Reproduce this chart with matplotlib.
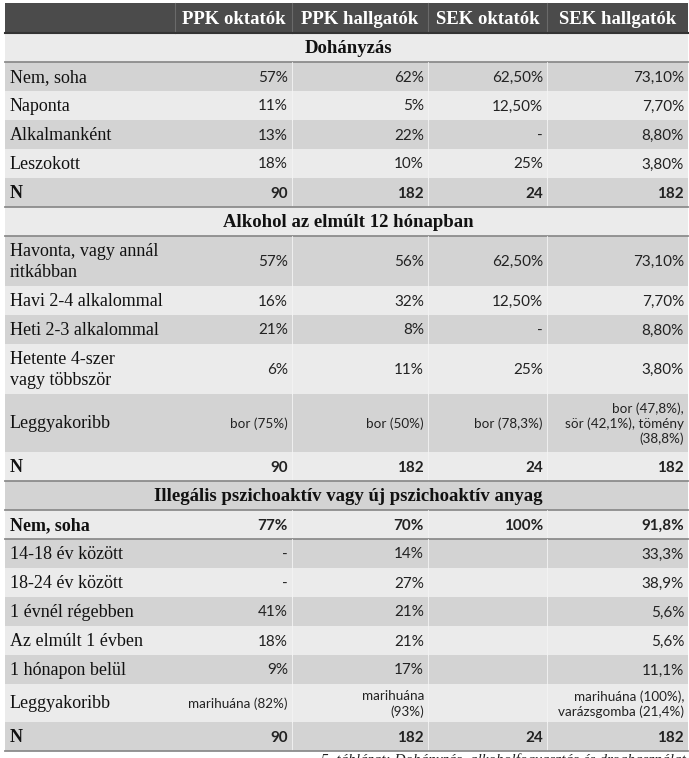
import matplotlib.pyplot as plt
from matplotlib.patches import Rectangle

# column headers
headers = ["PPK oktatók", "PPK hallgatók", "SEK oktatók", "SEK hallgatók"]

# section 1: smoking
smoke_title = "Dohányzás"
smoke_labels = ["Nem, soha", "Naponta", "Alkalmanként", "Leszokott", "N"]
smoke_vals = [
    ["57%", "62%", "62,50%", "73,10%"],
    ["11%", "5%", "12,50%", "7,70%"],
    ["13%", "22%", "-", "8,80%"],
    ["18%", "10%", "25%", "3,80%"],
    ["90", "182", "24", "182"],
]

# section 2: alcohol
alc_title = "Alkohol az elmúlt 12 hónapban"
alc_labels = ["Havonta, vagy annál\nritkábban", "Havi 2-4 alkalommal", "Heti 2-3 alkalommal",
              "Hetente 4-szer\nvagy többször", "Leggyakoribb", "N"]
alc_vals = [
    ["57%", "56%", "62,50%", "73,10%"],
    ["16%", "32%", "12,50%", "7,70%"],
    ["21%", "8%", "-", "8,80%"],
    ["6%", "11%", "25%", "3,80%"],
    ["bor (75%)", "bor (50%)", "bor (78,3%)", "bor (47,8%),\nsör (42,1%), tömény\n(38,8%)"],
    ["90", "182", "24", "182"],
]

# section 3: drugs
drug_title = "Illegális pszichoaktív vagy új pszichoaktív anyag"
drug_labels = ["Nem, soha", "14-18 év között", "18-24 év között", "1 évnél régebben",
               "Az elmúlt 1 évben", "1 hónapon belül", "Leggyakoribb", "N"]
drug_vals = [
    ["77%", "70%", "100%", "91,8%"],
    ["-", "14%", "", "33,3%"],
    ["-", "27%", "", "38,9%"],
    ["41%", "21%", "", "5,6%"],
    ["18%", "21%", "", "5,6%"],
    ["9%", "17%", "", "11,1%"],
    ["marihuána (82%)", "marihuána\n(93%)", "", "marihuána (100%),\nvarázsgomba (21,4%)"],
    ["90", "182", "24", "182"],
]

caption = "5. táblázat: Dohányzás, alkoholfogyasztás és droghasználat"

W, H = 689, 758
col_edges = [5, 175, 292, 428, 547, 688]
SERIF = "Liberation Serif"
SANS = "Lato"
DARK = "#d3d3d3"
LIGHT = "#ebebeb"

fig = plt.figure(figsize=(W / 100, H / 100), dpi=100)
ax = fig.add_axes([0, 0, 1, 1])
ax.set_xlim(0, W)
ax.set_ylim(H, 0)
ax.axis("off")


def row_height(label, vals):
    n_serif = label.count("\n") + 1
    n_sans = max(v.count("\n") + 1 for v in vals)
    h = 29
    if n_serif > 1:
        h = max(h, 21 * n_serif + 8)
    if n_sans == 2:
        h = max(h, 38)
    elif n_sans >= 3:
        h = max(h, 58)
    return h


# header row
y = 3
hh = 30
ax.add_patch(Rectangle((col_edges[0], y), col_edges[-1] - col_edges[0], hh, color="#4b4b4b", lw=0))
for i, hd in enumerate(headers):
    x0, x1 = col_edges[i + 1], col_edges[i + 2]
    ax.text((x0 + x1) / 2, y + hh / 2 + 1, hd, ha="center", va="center", color="white",
            fontsize=13.5, fontweight="bold", family=SERIF)
for xe in col_edges[1:-1]:
    ax.plot([xe, xe], [y, y + hh], color="#6a6a6a", lw=0.8)
y += hh
ax.plot([col_edges[0], col_edges[-1]], [y, y], color="#333333", lw=1.5)

sections = [
    (smoke_title, smoke_labels, smoke_vals),
    (alc_title, alc_labels, alc_vals),
    (drug_title, drug_labels, drug_vals),
]

shade = 0  # 0 -> light, 1 -> dark
for title, labels, vals in sections:
    # section title row
    th = 29
    ax.add_patch(Rectangle((col_edges[0], y), col_edges[-1] - col_edges[0], th,
                           color=LIGHT if shade == 0 else DARK, lw=0))
    ax.text((col_edges[0] + col_edges[-1]) / 2 + 2, y + th / 2 + 1, title, ha="center", va="center",
            fontsize=13.5, fontweight="bold", family=SERIF, color="#111111")
    ax.plot([col_edges[0], col_edges[-1]], [y + th, y + th], color="#8c8c8c", lw=1.3)
    y += th
    shade = 1 - shade
    for lab, row in zip(labels, vals):
        rh = row_height(lab, row)
        ax.add_patch(Rectangle((col_edges[0], y), col_edges[-1] - col_edges[0], rh,
                               color=LIGHT if shade == 0 else DARK, lw=0))
        bold = lab == "N" or (title == drug_title and lab == "Nem, soha")
        ax.text(col_edges[0] + 5, y + rh / 2 + 1, lab, ha="left", va="center", fontsize=13,
                family=SERIF, fontweight="bold" if bold else "normal", color="#111111",
                linespacing=1.3)
        for i, v in enumerate(row):
            ax.text(col_edges[i + 2] - 4, y + rh / 2 + 1, v, ha="right", va="center",
                    fontsize=9.7 if len(v) > 7 else 11, family=SANS,
                    fontweight="bold" if bold else "normal", color="#222222",
                    linespacing=1.25, multialignment="right")
        for xe in col_edges[2:-1]:
            ax.plot([xe, xe], [y, y + rh], color="#f4f4f4", lw=0.6)
        y += rh
        shade = 1 - shade
        if lab == "N" or bold:
            ax.plot([col_edges[0], col_edges[-1]], [y, y], color="#8c8c8c", lw=1.3)

# caption sits right below the table and is cropped by the image edge, as in the source
ax.text(col_edges[-1] - 2, y + 2, caption, ha="right", va="top", fontsize=11,
        family=SERIF, style="italic", color="#222222")

fig.savefig("out.png", dpi=100)
